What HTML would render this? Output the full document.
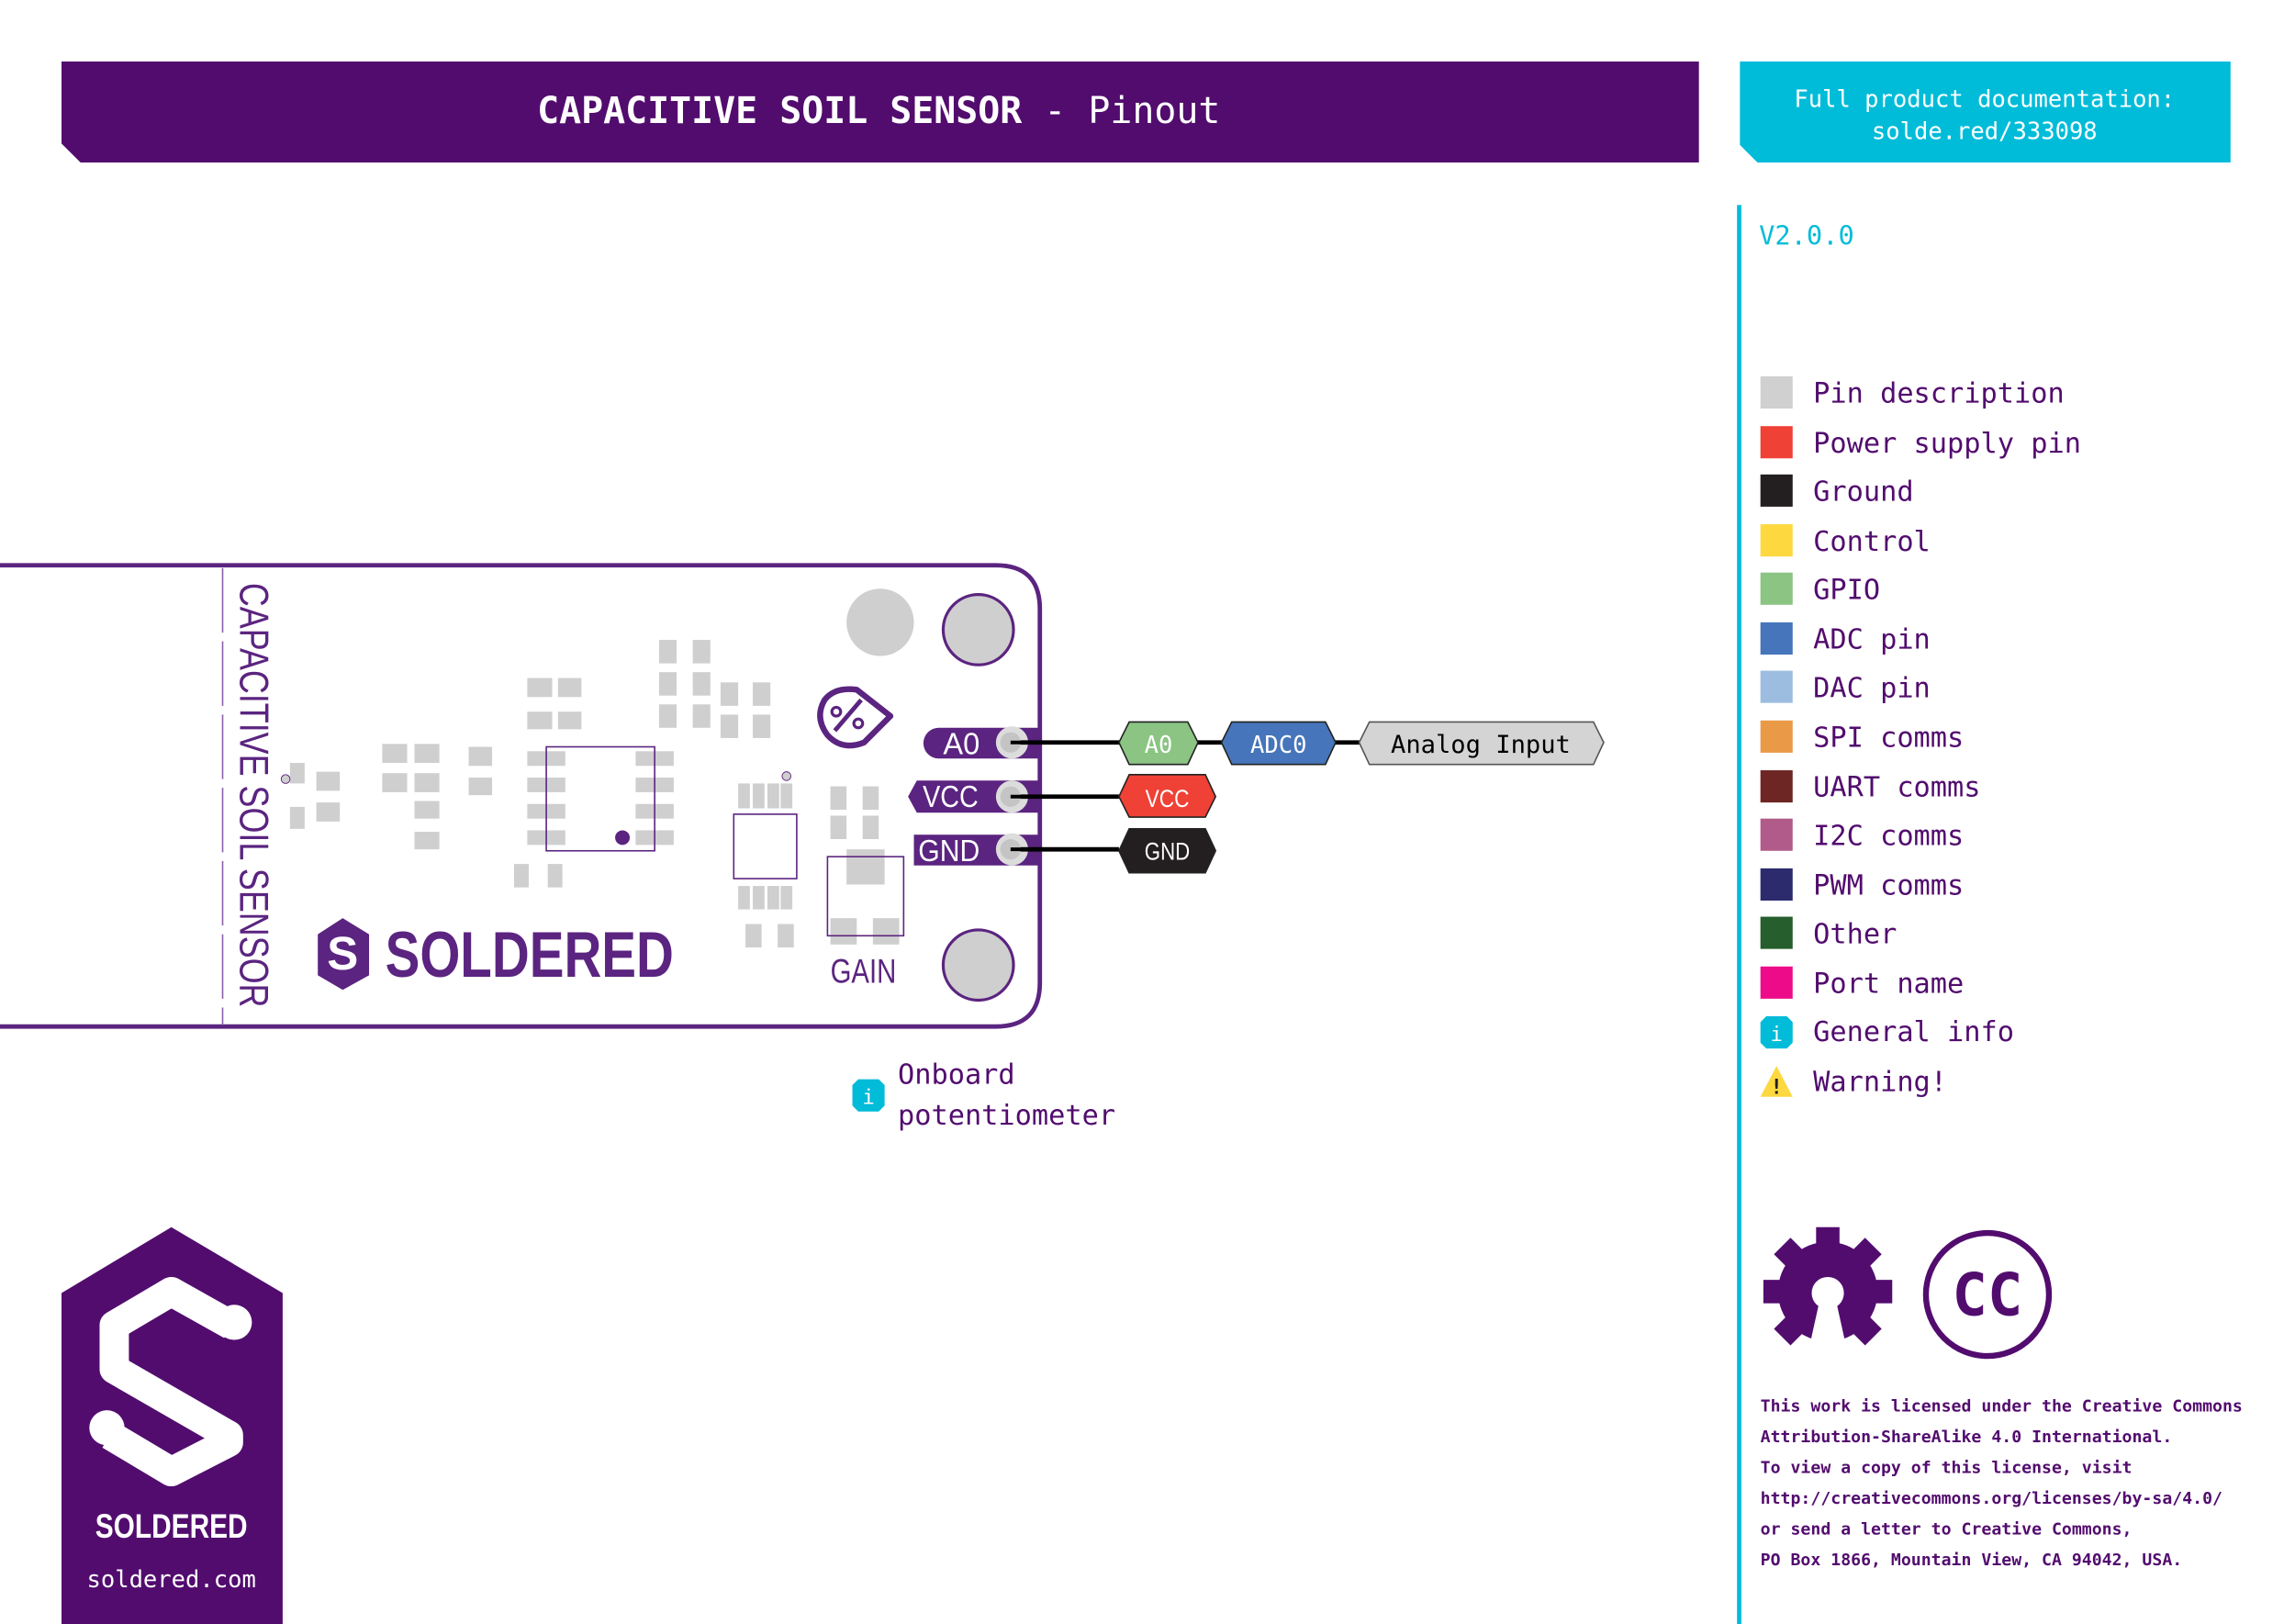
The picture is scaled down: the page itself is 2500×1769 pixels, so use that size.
<!DOCTYPE html>
<html><head><meta charset="utf-8"><style>
html,body{margin:0;padding:0;background:#fff;}
svg{display:block;}
.m{font-family:"DejaVu Sans Mono","Liberation Mono",monospace;}
.s{font-family:"Liberation Sans",sans-serif;}
</style></head><body>
<svg width="2500" height="1769" viewBox="0 0 1567 1109" preserveAspectRatio="none" xmlns="http://www.w3.org/2000/svg">
<rect width="1567" height="1109" fill="#fff"/>
<!-- header -->
<polygon points="42,42 1160,42 1160,111 55,111 42,98" fill="#520c6e"/>
<text x="600" y="84" text-anchor="middle" class="m" font-size="25" fill="#fff"><tspan font-weight="bold">CAPACITIVE SOIL SENSOR</tspan> - Pinout</text>
<polygon points="1188,42 1523,42 1523,111 1200,111 1188,99" fill="#00bcd9"/>
<text x="1355" y="73" text-anchor="middle" class="m" font-size="16" fill="#fff">Full product documentation:</text>
<text x="1355" y="95" text-anchor="middle" class="m" font-size="16" fill="#fff">solde.red/333098</text>
<rect x="1186" y="140" width="3" height="970" fill="#00bcd9"/>
<text x="1201" y="167" class="m" font-size="18" fill="#00bcd9">V2.0.0</text>
<!-- legend -->
<g class="m" font-size="19" fill="#520c6e">
<rect x="1202" y="257" width="22" height="22" fill="#d0d0d0"/><text x="1238" y="275">Pin description</text>
<rect x="1202" y="291" width="22" height="22" fill="#ef4136"/><text x="1238" y="309">Power supply pin</text>
<rect x="1202" y="324" width="22" height="22" fill="#231f20"/><text x="1238" y="342">Ground</text>
<rect x="1202" y="358" width="22" height="22" fill="#fdd83f"/><text x="1238" y="376">Control</text>
<rect x="1202" y="391" width="22" height="22" fill="#8bc483"/><text x="1238" y="409">GPIO</text>
<rect x="1202" y="425" width="22" height="22" fill="#4675bb"/><text x="1238" y="443">ADC pin</text>
<rect x="1202" y="458" width="22" height="22" fill="#9dbde0"/><text x="1238" y="476">DAC pin</text>
<rect x="1202" y="492" width="22" height="22" fill="#ea9a47"/><text x="1238" y="510">SPI comms</text>
<rect x="1202" y="526" width="22" height="22" fill="#6d2624"/><text x="1238" y="544">UART comms</text>
<rect x="1202" y="559" width="22" height="22" fill="#b05b8a"/><text x="1238" y="577">I2C comms</text>
<rect x="1202" y="593" width="22" height="22" fill="#2b2b6d"/><text x="1238" y="611">PWM comms</text>
<rect x="1202" y="626" width="22" height="22" fill="#265e2e"/><text x="1238" y="644">Other</text>
<rect x="1202" y="660" width="22" height="22" fill="#ee0b8a"/><text x="1238" y="678">Port name</text>
<polygon points="1206,694 1220,694 1224,698 1224,712 1220,716 1206,716 1202,712 1202,698" fill="#00bcd9"/><text x="1213" y="711" text-anchor="middle" font-size="14" fill="#fff">i</text><text x="1238" y="711">General info</text>
<polygon points="1213,728 1224,749 1202,749" fill="#fdd83f"/><text x="1213" y="747" text-anchor="middle" font-size="14" fill="#231f20" font-weight="bold">!</text><text x="1238" y="745">Warning!</text>
</g>
<!-- board -->
<path d="M-5,386 H680 Q710,386 710,416 V671 Q710,701 680,701 H-5" fill="#fff" stroke="#5b2480" stroke-width="3"/>
<line x1="152" y1="388" x2="152" y2="700" stroke="#8a5fa8" stroke-width="1" stroke-dasharray="44 6"/>
<text transform="translate(164,398) rotate(90)" class="s" font-size="28" fill="#5b2480" textLength="290" lengthAdjust="spacingAndGlyphs">CAPACITIVE SOIL SENSOR</text>
<circle cx="601" cy="425" r="23" fill="#cfcfcf"/>
<circle cx="668" cy="430" r="24" fill="#cfcfcf" stroke="#5b2480" stroke-width="2"/>
<circle cx="668" cy="659" r="24" fill="#cfcfcf" stroke="#5b2480" stroke-width="2"/>
<!-- pads -->
<g fill="#cfcfcf">
<rect x="198" y="521" width="10" height="14"/><rect x="198" y="551" width="10" height="15"/>
<rect x="216" y="527" width="16" height="13"/><rect x="216" y="548" width="16" height="13"/>
<rect x="261" y="508" width="17" height="13"/><rect x="261" y="528" width="17" height="13"/>
<rect x="283" y="508" width="17" height="13"/><rect x="283" y="528" width="17" height="13"/>
<rect x="283" y="547" width="17" height="12"/><rect x="283" y="568" width="17" height="12"/>
<rect x="320" y="510" width="16" height="13"/><rect x="320" y="531" width="16" height="12"/>
<rect x="360" y="463" width="17" height="13"/><rect x="360" y="486" width="17" height="12"/>
<rect x="381" y="463" width="16" height="13"/><rect x="381" y="486" width="16" height="12"/>
<rect x="360" y="513" width="26" height="10"/><rect x="360" y="531" width="26" height="10"/><rect x="360" y="549" width="26" height="10"/><rect x="360" y="567" width="26" height="10"/>
<rect x="434" y="513" width="26" height="10"/><rect x="434" y="531" width="26" height="10"/><rect x="434" y="549" width="26" height="10"/><rect x="434" y="567" width="26" height="10"/>
<rect x="351" y="590" width="10" height="16"/><rect x="374" y="590" width="10" height="16"/>
<rect x="450" y="437" width="12" height="16"/><rect x="450" y="459" width="12" height="16"/><rect x="450" y="481" width="12" height="16"/>
<rect x="473" y="437" width="12" height="16"/><rect x="473" y="459" width="12" height="16"/><rect x="473" y="481" width="12" height="16"/>
<rect x="492" y="466" width="12" height="16"/><rect x="492" y="488" width="12" height="16"/>
<rect x="514" y="466" width="12" height="16"/><rect x="514" y="488" width="12" height="16"/>
<rect x="504" y="535" width="8" height="17"/><rect x="514" y="535" width="8" height="17"/><rect x="524" y="535" width="8" height="17"/><rect x="533" y="535" width="8" height="17"/>
<rect x="504" y="605" width="8" height="16"/><rect x="514" y="605" width="8" height="16"/><rect x="524" y="605" width="8" height="16"/><rect x="533" y="605" width="8" height="16"/>
<rect x="509" y="631" width="11" height="16"/><rect x="531" y="631" width="11" height="16"/>
<rect x="567" y="537" width="11" height="16"/><rect x="567" y="557" width="11" height="16"/>
<rect x="589" y="537" width="11" height="16"/><rect x="589" y="557" width="11" height="16"/>
<rect x="578" y="580" width="26" height="24"/>
<rect x="567" y="627" width="18" height="18"/><rect x="596" y="627" width="18" height="18"/>
<circle cx="195" cy="532" r="3" stroke="#5b2480" stroke-width="0.6"/>
<circle cx="537" cy="530" r="3" stroke="#5b2480" stroke-width="0.6"/>
</g>
<rect x="373" y="510" width="74" height="71" fill="none" stroke="#5b2480" stroke-width="1"/>
<circle cx="425" cy="572" r="5" fill="#5b2480"/>
<rect x="501" y="556" width="43" height="44" fill="none" stroke="#5b2480" stroke-width="1"/>
<rect x="565" y="585" width="52" height="54" fill="none" stroke="#5b2480" stroke-width="1"/>
<text x="567" y="671" class="s" font-size="23" fill="#5b2480" textLength="45" lengthAdjust="spacingAndGlyphs">GAIN</text>
<!-- pot icon -->
<path d="M608,489 L590,507 Q575,513 565,502 Q556,490 563,478 Q570,469 585,471 Z" fill="none" stroke="#5b2480" stroke-width="4" stroke-linejoin="round"/>
<line x1="570" y1="499" x2="588" y2="478" stroke="#5b2480" stroke-width="3"/>
<circle cx="571" cy="486" r="3" fill="none" stroke="#5b2480" stroke-width="2"/>
<circle cx="586" cy="494" r="3" fill="none" stroke="#5b2480" stroke-width="2"/>
<!-- board logo -->
<polygon points="234,627 252,638 252,666 234,676 217,666 217,638" fill="#5b2480"/>
<text x="234" y="662" text-anchor="middle" class="s" font-size="32" font-weight="bold" fill="#fff">S</text>
<text x="263" y="667" class="s" font-size="44" font-weight="bold" fill="#5b2480" textLength="197" lengthAdjust="spacingAndGlyphs">SOLDERED</text>
<!-- pins -->
<g fill="#5b2480">
<path d="M641,497 H710 V518 H641 A10.5,10.5 0 0 1 641,497 Z"/>
<polygon points="626,533 710,533 710,555 626,555 620,544"/>
<rect x="624" y="570" width="86" height="21"/>
</g>
<g class="s" font-size="21" fill="#fff">
<text x="644" y="515" textLength="25" lengthAdjust="spacingAndGlyphs">A0</text>
<text x="630" y="551" textLength="38" lengthAdjust="spacingAndGlyphs">VCC</text>
<text x="627" y="588" textLength="42" lengthAdjust="spacingAndGlyphs">GND</text>
</g>
<g fill="#dcdcdc"><circle cx="691" cy="507" r="11"/><circle cx="691" cy="544" r="11"/><circle cx="691" cy="580" r="11"/></g>
<g stroke="#000" stroke-width="3"><line x1="690" y1="507" x2="928" y2="507"/><line x1="690" y1="544" x2="764" y2="544"/><line x1="690" y1="580" x2="764" y2="580"/></g>
<g fill="#c4c4c4"><circle cx="690" cy="507" r="7"/><circle cx="690" cy="544" r="7"/><circle cx="690" cy="580" r="7"/></g>
<g stroke="#000" stroke-width="2.5"><line x1="690" y1="507" x2="700" y2="507"/><line x1="690" y1="544" x2="700" y2="544"/><line x1="690" y1="580" x2="700" y2="580"/></g>
<!-- connectors -->
<polygon points="771,493 811,493 818,507 811,522 771,522 764,507" fill="#8bc483" stroke="#222" stroke-width="1"/>
<text x="791" y="514" text-anchor="middle" class="m" font-size="16" fill="#fff">A0</text>
<polygon points="841,493 905,493 912,507 905,522 841,522 834,507" fill="#4675bb" stroke="#222" stroke-width="1"/>
<text x="873" y="514" text-anchor="middle" class="m" font-size="16" fill="#fff">ADC0</text>
<polygon points="935,493 1088,493 1095,507 1088,522 935,522 928,507" fill="#d4d4d4" stroke="#555" stroke-width="1"/>
<text x="1011" y="514" text-anchor="middle" class="m" font-size="17" fill="#000">Analog Input</text>
<polygon points="771,529 823,529 830,544 823,558 771,558 764,544" fill="#ef4136" stroke="#222" stroke-width="1"/>
<text x="797" y="551" text-anchor="middle" class="s" font-size="17" fill="#fff" textLength="30" lengthAdjust="spacingAndGlyphs">VCC</text>
<polygon points="771,566 823,566 830,581 823,596 771,596 764,581" fill="#231f20" stroke="#222" stroke-width="1"/>
<text x="797" y="587" text-anchor="middle" class="s" font-size="17" fill="#fff" textLength="31" lengthAdjust="spacingAndGlyphs">GND</text>
<!-- info -->
<polygon points="586,737 600,737 604,741 604,755 600,759 586,759 582,755 582,741" fill="#00bcd9"/>
<text x="593" y="754" text-anchor="middle" class="m" font-size="14" fill="#fff">i</text>
<text x="613" y="740" class="m" font-size="19" fill="#520c6e">Onboard</text>
<text x="613" y="768" class="m" font-size="19" fill="#520c6e">potentiometer</text>
<!-- bottom-left logo -->
<polygon points="42,883 117,838 193,883 193,1110 42,1110" fill="#520c6e"/>
<path d="M158,905 L117,882 L78,905 L78,935 L156,980 L156,985 L117,1005 L75,980" fill="none" stroke="#fff" stroke-width="20" stroke-linejoin="round"/>
<circle cx="160" cy="903" r="12" fill="#fff"/><circle cx="73" cy="975" r="12" fill="#fff"/>
<text x="117" y="1050" text-anchor="middle" class="s" font-size="23" font-weight="bold" fill="#fff" textLength="104" lengthAdjust="spacingAndGlyphs">SOLDERED</text>
<text x="117" y="1084" text-anchor="middle" class="m" font-size="16" fill="#fff">soldered.com</text>
<!-- gear -->
<g fill="#520c6e">
<circle cx="1248" cy="882" r="34"/>
<g id="t"><rect x="1240" y="838" width="16" height="20"/></g>
<use href="#t" transform="rotate(45 1248 882)"/><use href="#t" transform="rotate(90 1248 882)"/><use href="#t" transform="rotate(135 1248 882)"/>
<use href="#t" transform="rotate(225 1248 882)"/><use href="#t" transform="rotate(270 1248 882)"/><use href="#t" transform="rotate(315 1248 882)"/>
</g>
<circle cx="1248" cy="883" r="11" fill="#fff"/>
<polygon points="1242,890 1254,890 1262,926 1234,926" fill="#fff"/>
<circle cx="1357" cy="884" r="42" fill="none" stroke="#520c6e" stroke-width="4"/>
<text x="1357" y="898" text-anchor="middle" class="m" font-size="40" font-weight="bold" fill="#520c6e">CC</text>
<g class="m" font-size="11.4" font-weight="bold" fill="#520c6e">
<text x="1202" y="964">This work is licensed under the Creative Commons</text>
<text x="1202" y="985">Attribution-ShareAlike 4.0 International.</text>
<text x="1202" y="1006">To view a copy of this license, visit</text>
<text x="1202" y="1027">http://creativecommons.org/licenses/by-sa/4.0/</text>
<text x="1202" y="1048">or send a letter to Creative Commons,</text>
<text x="1202" y="1069">PO Box 1866, Mountain View, CA 94042, USA.</text>
</g>
</svg>
</body></html>
